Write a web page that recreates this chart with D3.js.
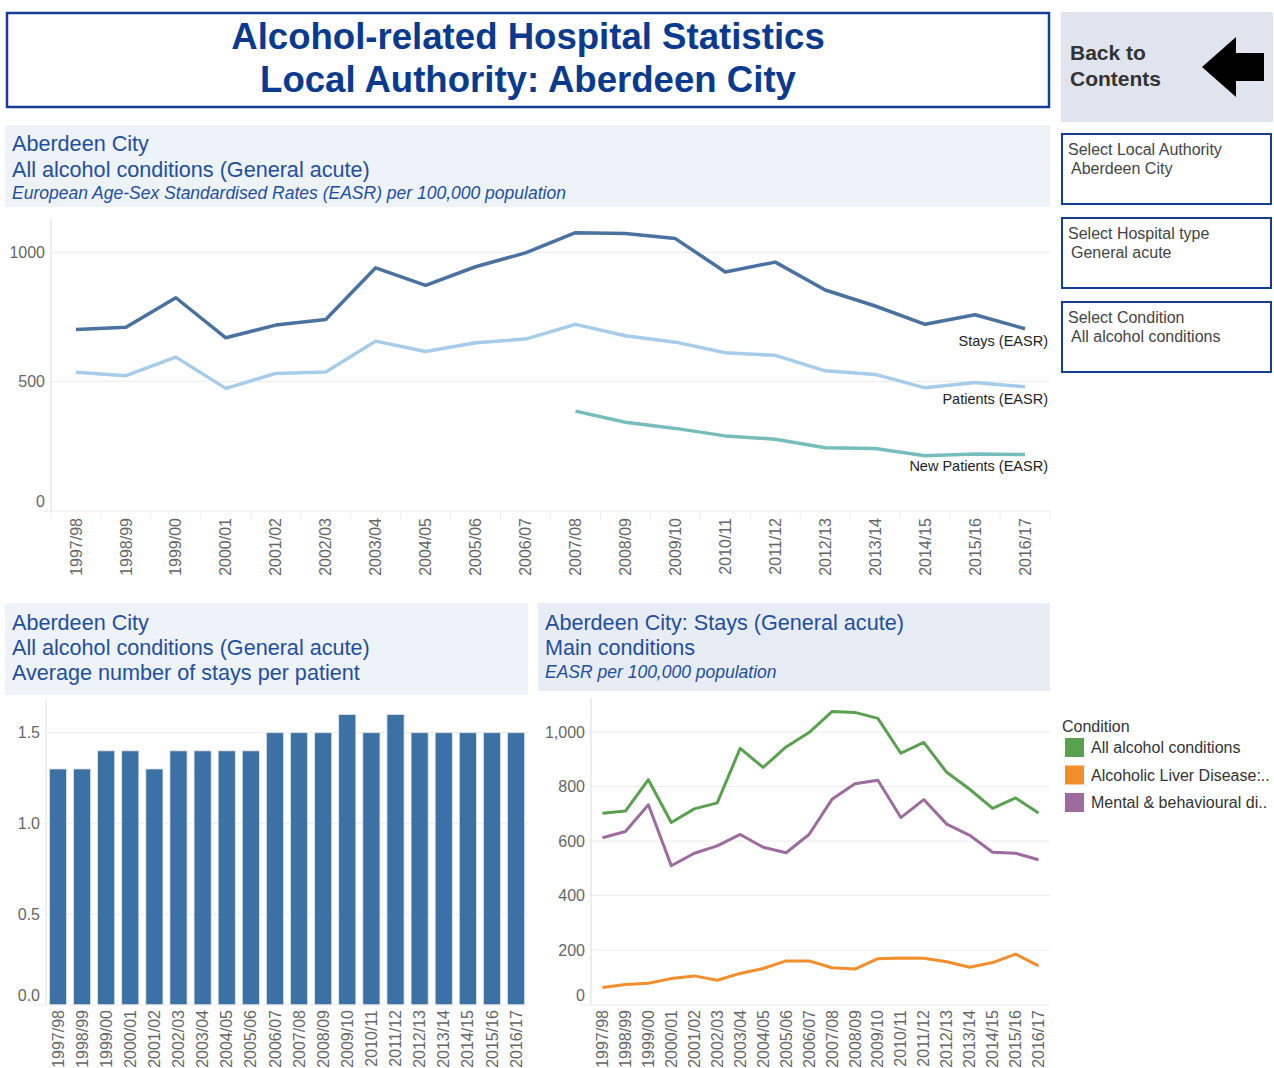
<!DOCTYPE html>
<html>
<head>
<meta charset="utf-8">
<script src="https://cdn.jsdelivr.net/npm/d3@7"></script>
<style>
  body { margin: 0; background: #fff; }
  svg { display: block; font-family: Arial, "Liberation Sans", sans-serif; }
  .tick text { fill: #666; }
</style>
</head>
<body>
<svg></svg>
<script>
// ---- data ----
const years = ['1997/98','1998/99','1999/00','2000/01','2001/02','2002/03','2003/04','2004/05','2005/06','2006/07',
    '2007/08','2008/09','2009/10','2010/11','2011/12','2012/13','2013/14','2014/15','2015/16','2016/17'];

const staysEASR = [701, 710, 824, 669, 718, 740, 940, 872, 944, 998, 1076, 1073, 1053, 924, 962, 854, 792, 721, 758, 704];
const patientsEASR = [535, 522, 594, 473, 531, 536, 656, 616, 650, 664, 721, 677, 652, 611, 601, 541, 527, 475, 496, 479];
const newPatientsEASR = [null, null, null, null, null, null, null, null, null, null,
    385, 342, 318, 289, 276, 243, 240, 212, 219, 217];
const topSeries = ['Stays (EASR)', 'Patients (EASR)', 'New Patients (EASR)'];
const topTicks = [0, 500, 1000];

const staysPerPatient = [1.3, 1.3, 1.4, 1.4, 1.3, 1.4, 1.4, 1.4, 1.4, 1.5, 1.5, 1.5, 1.6, 1.5, 1.6, 1.5, 1.5, 1.5, 1.5, 1.5];
const barTicks = [0, 0.5, 1.0, 1.5];

const conditions = ['All alcohol conditions', 'Alcoholic Liver Disease:..', 'Mental & behavioural di..'];
const condAll = [702, 710, 825, 668, 718, 740, 940, 870, 945, 998, 1075, 1072, 1050, 922, 962, 852, 790, 720, 758, 703];
const condLiver = [62, 73, 78, 95, 105, 89, 114, 132, 160, 160, 135, 130, 168, 171, 170, 157, 137, 154, 185, 142];
const condMental = [612, 635, 733, 509, 555, 582, 624, 577, 557, 624, 753, 810, 823, 686, 752, 662, 621, 559, 555, 531];
const condTicks = [0, 200, 400, 600, 800, 1000];

const filters = [
    ['Select Local Authority', 'Aberdeen City'],
    ['Select Hospital type', 'General acute'],
    ['Select Condition', 'All alcohol conditions']
];

// ---- setup ----
const size = {w: 1274, h: 1068};
const navy = '#163d96';
const headBlue = '#1f4f9f';
const grid = '#ececec';
const axisGrey = '#dcdcdc';
const tickFont = 16;

const svg = d3.select('svg')
    .attr('width', size.w)
    .attr('height', size.h);

// title box
svg.append('rect')
    .attr('x', 7).attr('y', 13).attr('width', 1042).attr('height', 94)
    .attr('fill', '#fff').attr('stroke', navy).attr('stroke-width', 2.5);
svg.append('text')
    .attr('x', 528).attr('y', 49)
    .attr('text-anchor', 'middle')
    .attr('font-size', 36.6).attr('font-weight', 'bold').attr('fill', '#0a3a8e')
    .text('Alcohol-related Hospital Statistics');
svg.append('text')
    .attr('x', 528).attr('y', 92)
    .attr('text-anchor', 'middle')
    .attr('font-size', 36.6).attr('font-weight', 'bold').attr('fill', '#0a3a8e')
    .text('Local Authority: Aberdeen City');

// back to contents
svg.append('rect')
    .attr('x', 1061).attr('y', 12).attr('width', 212).attr('height', 110)
    .attr('fill', '#dfe4ee');
svg.append('text')
    .attr('x', 1070).attr('y', 60)
    .attr('font-size', 21).attr('font-weight', 'bold').attr('fill', '#333')
    .text('Back to');
svg.append('text')
    .attr('x', 1070).attr('y', 86)
    .attr('font-size', 21).attr('font-weight', 'bold').attr('fill', '#333')
    .text('Contents');
svg.append('path')
    .attr('d', 'M1202,67 L1236,37 L1236,53 L1264,53 L1264,81 L1236,81 L1236,97 Z')
    .attr('fill', '#000');

// filter boxes
filters.forEach((f, i) => {
    const y0 = 134 + i * 84;
    svg.append('rect')
        .attr('x', 1062).attr('y', y0).attr('width', 209).attr('height', 70)
        .attr('fill', '#fff').attr('stroke', navy).attr('stroke-width', 2);
    svg.append('text')
        .attr('x', 1068).attr('y', y0 + 21)
        .attr('font-size', 16).attr('fill', '#444')
        .text(f[0]);
    svg.append('text')
        .attr('x', 1071).attr('y', y0 + 40)
        .attr('font-size', 16).attr('fill', '#444')
        .text(f[1]);
});

// panel headers
function header(x, y, w, h, fill, lines) {
    svg.append('rect')
        .attr('x', x).attr('y', y).attr('width', w).attr('height', h)
        .attr('fill', fill);
    lines.forEach(l => {
        svg.append('text')
            .attr('x', x + 7).attr('y', l.y)
            .attr('font-size', l.size)
            .attr('font-style', l.italic ? 'italic' : null)
            .attr('fill', headBlue)
            .text(l.t);
    });
}

header(5, 125, 1045, 82, '#eef2f9', [
    {t: 'Aberdeen City', y: 151, size: 21.6},
    {t: 'All alcohol conditions (General acute)', y: 177, size: 21.6},
    {t: 'European Age-Sex Standardised Rates (EASR) per 100,000 population', y: 199, size: 17.5, italic: true}
]);
header(5, 603, 523, 92, '#eef2f9', [
    {t: 'Aberdeen City', y: 630, size: 21.6},
    {t: 'All alcohol conditions (General acute)', y: 655, size: 21.6},
    {t: 'Average number of stays per patient', y: 680, size: 21.6}
]);
header(538, 603, 512, 88, '#e8ecf5', [
    {t: 'Aberdeen City: Stays (General acute)', y: 630, size: 21.6},
    {t: 'Main conditions', y: 655, size: 21.6},
    {t: 'EASR per 100,000 population', y: 678, size: 17.5, italic: true}
]);

// helpers for axes
function yAxis(g, scale, ticks, fmt, left, right, zeroShift) {
    g.append('g')
        .selectAll('line')
        .data(ticks.filter(t => t !== 0))
        .join('line')
        .attr('x1', left).attr('x2', right)
        .attr('y1', d => scale(d)).attr('y2', d => scale(d))
        .attr('stroke', grid);
    const ax = g.append('g')
        .attr('transform', `translate(${left - 2},0)`)
        .call(d3.axisLeft(scale).tickValues(ticks).tickSize(0).tickPadding(4).tickFormat(fmt));
    ax.select('.domain').remove();
    ax.selectAll('text').attr('font-size', tickFont).attr('fill', '#666');
    ax.selectAll('.tick').filter(d => d === 0).select('text').attr('y', -zeroShift);
}

function xAxis(g, band, baseY, top, gap, withTicks) {
    // frame lines
    g.append('line')
        .attr('x1', band.range()[0]).attr('x2', band.range()[0])
        .attr('y1', top).attr('y2', baseY)
        .attr('stroke', axisGrey);
    g.append('line')
        .attr('x1', band.range()[0] - 12).attr('x2', band.range()[1])
        .attr('y1', baseY).attr('y2', baseY)
        .attr('stroke', grid);
    const ax = g.append('g')
        .attr('transform', `translate(0,${baseY})`)
        .call(d3.axisBottom(band).tickSize(0));
    ax.select('.domain').remove();
    ax.selectAll('text')
        .attr('font-size', tickFont).attr('fill', '#666')
        .attr('transform', 'rotate(-90)')
        .attr('x', -gap).attr('y', 0).attr('dy', '0.35em')
        .attr('text-anchor', 'end');
    if (withTicks) {
        const edges = years.map(d => band(d)).concat([band.range()[1]]);
        g.append('g').selectAll('line')
            .data(edges)
            .join('line')
            .attr('x1', d => d).attr('x2', d => d)
            .attr('y1', baseY).attr('y2', baseY + 8)
            .attr('stroke', grid);
    }
}

// ---- top chart ----
const topG = svg.append('g');
const xTop = d3.scaleBand().domain(years).range([51, 1050]);
const yTop = d3.scaleLinear().domain([0, 1000]).range([510.5, 252.3]);
yAxis(topG, yTop, topTicks, d3.format('d'), 51, 1050, 9);
xAxis(topG, xTop, 511, 218, 7, true);

const topColors = ['#4a72a1', '#a5cde9', '#75bebc'];
const topData = [staysEASR, patientsEASR, newPatientsEASR];
const lineTop = d3.line()
    .defined(d => d.v !== null)
    .x(d => xTop(d.year) + xTop.bandwidth() / 2)
    .y(d => yTop(d.v));

topData.forEach((vals, i) => {
    const pts = years.map((y, j) => ({year: y, v: vals[j]}));
    topG.append('path')
        .datum(pts)
        .attr('d', lineTop)
        .attr('fill', 'none')
        .attr('stroke', topColors[i])
        .attr('stroke-width', 3.5)
        .attr('stroke-linejoin', 'round');
    topG.append('text')
        .attr('x', 1048)
        .attr('y', yTop(vals[vals.length - 1]) + 17)
        .attr('text-anchor', 'end')
        .attr('font-size', 14.5).attr('fill', '#222')
        .text(topSeries[i]);
});

// ---- bar chart ----
const barG = svg.append('g');
const xBar = d3.scaleBand().domain(years).range([46, 528]).paddingInner(0.29).paddingOuter(0.14);
const yBar = d3.scaleLinear().domain([0, 1.5]).range([1004.7, 732.7]);
yAxis(barG, yBar, barTicks, d3.format('.1f'), 46, 528, 9);
xAxis(barG, xBar, 1005, 700, 5, false);

barG.append('g')
    .selectAll('rect')
    .data(staysPerPatient)
    .join('rect')
    .attr('x', (d, i) => xBar(years[i]))
    .attr('y', d => yBar(d))
    .attr('width', xBar.bandwidth())
    .attr('height', d => yBar(0) - yBar(d))
    .attr('fill', '#3b71a5')
    .attr('stroke', '#e4e4e4')
    .attr('stroke-width', 0.8);

// ---- conditions chart ----
const condG = svg.append('g');
const xCond = d3.scaleBand().domain(years).range([591, 1050]);
const yCond = d3.scaleLinear().domain([0, 1000]).range([1004.5, 732]);
yAxis(condG, yCond, condTicks, d3.format(','), 591, 1050, 9);
xAxis(condG, xCond, 1005, 698, 5, false);

const condColors = ['#59a14f', '#f28e2b', '#9d6b9d'];
const condData = [condAll, condLiver, condMental];
const lineCond = d3.line()
    .x((d, i) => xCond(years[i]) + xCond.bandwidth() / 2)
    .y(d => yCond(d));

[condLiver, condMental, condAll].forEach(vals => {
    const i = condData.indexOf(vals);
    condG.append('path')
        .datum(vals)
        .attr('d', lineCond)
        .attr('fill', 'none')
        .attr('stroke', condColors[i])
        .attr('stroke-width', 3)
        .attr('stroke-linejoin', 'round');
});

// legend
const legend = svg.append('g').attr('transform', 'translate(1062,0)');
legend.append('text')
    .attr('x', 0).attr('y', 732)
    .attr('font-size', 16).attr('fill', '#333')
    .text('Condition');
legend.selectAll('g.item')
    .data(conditions)
    .join('g')
    .attr('class', 'item')
    .attr('transform', (d, i) => `translate(0,${738 + i * 27.5})`)
    .each(function(d, i) {
        const it = d3.select(this);
        it.append('rect')
            .attr('x', 3).attr('y', 0).attr('width', 19).attr('height', 19)
            .attr('fill', condColors[i]);
        it.append('text')
            .attr('x', 29).attr('y', 15)
            .attr('font-size', 16).attr('fill', '#333')
            .text(d);
    });
</script>
</body>
</html>
